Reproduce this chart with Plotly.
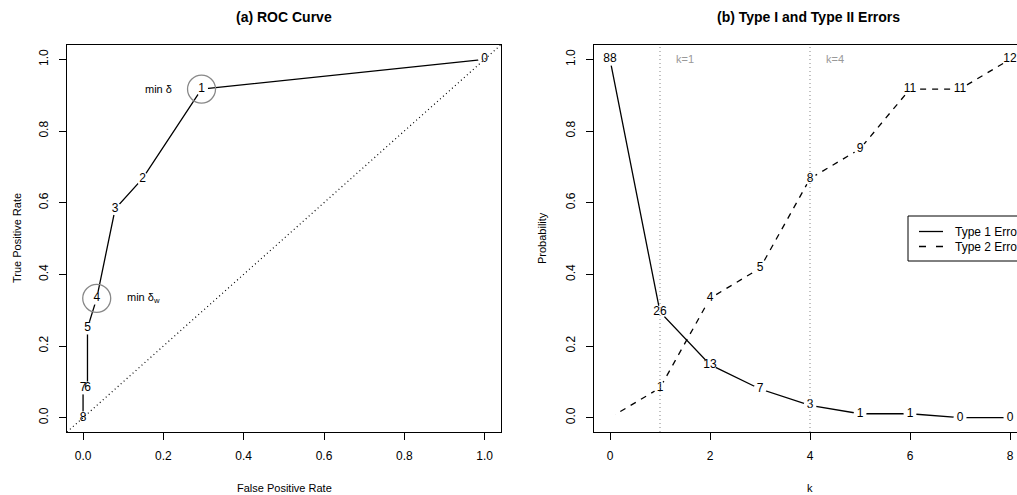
import plotly.graph_objects as go

# ---------------- data ----------------
k_values = [0, 1, 2, 3, 4, 5, 6, 7, 8]
type1_prob = [1.0, 0.295, 0.148, 0.080, 0.034, 0.011, 0.011, 0.0, 0.0]
type1_labels = ["88", "26", "13", "7", "3", "1", "1", "0", "0"]
type2_prob = [0.0, 0.083, 0.333, 0.417, 0.667, 0.750, 0.917, 0.917, 1.0]
type2_labels = ["", "1", "4", "5", "8", "9", "11", "11", "12"]

roc_fpr = [1.0, 0.295, 0.148, 0.080, 0.034, 0.011, 0.011, 0.0, 0.0]
roc_tpr = [1.0, 0.917, 0.667, 0.583, 0.333, 0.250, 0.083, 0.083, 0.0]
roc_labels = ["0", "1", "2", "3", "4", "5", "6", "7", "8"]
roc_highlight_idx = [1, 4]

k_marks = [1, 4]
k_mark_labels = ["k=1", "k=4"]

roc_ticks = [0.0, 0.2, 0.4, 0.6, 0.8, 1.0]
prob_ticks = [0.0, 0.2, 0.4, 0.6, 0.8, 1.0]
k_ticks = [0, 2, 4, 6, 8]

# ---------------- figure ----------------
# The figure is a little wider than the window: the right panel runs past
# the visible edge, as in the reference.
W, H = 1030, 495
FONT = "Liberation Sans, Arial, Helvetica, sans-serif"

def px(x):
    return x / W

def py(y):
    return 1 - y / H

fig = go.Figure()

# --- ROC panel ---
fig.add_trace(go.Scatter(x=roc_fpr, y=roc_tpr, mode="lines",
                         line=dict(color="black", width=1.3),
                         xaxis="x", yaxis="y", showlegend=False, hoverinfo="skip"))
fig.add_trace(go.Scatter(x=roc_fpr, y=roc_tpr, mode="markers",
                         marker=dict(color="white", size=13, line=dict(width=0)),
                         xaxis="x", yaxis="y", showlegend=False, hoverinfo="skip"))
fig.add_trace(go.Scatter(x=roc_fpr, y=roc_tpr, mode="text", text=roc_labels,
                         textposition="middle center",
                         textfont=dict(family=FONT, size=12, color="black"),
                         cliponaxis=False,
                         xaxis="x", yaxis="y", showlegend=False))
fig.add_trace(go.Scatter(x=[roc_fpr[i] for i in roc_highlight_idx],
                         y=[roc_tpr[i] for i in roc_highlight_idx],
                         mode="markers",
                         marker=dict(symbol="circle-open", size=28, color="#888888",
                                     line=dict(width=1.3, color="#888888")),
                         xaxis="x", yaxis="y", showlegend=False, hoverinfo="skip"))

# --- Errors panel ---
fig.add_trace(go.Scatter(x=k_values, y=type1_prob, mode="lines", name="Type 1 Error",
                         line=dict(color="black", width=1.3),
                         xaxis="x2", yaxis="y2", showlegend=False))
fig.add_trace(go.Scatter(x=k_values, y=type2_prob, mode="lines", name="Type 2 Error",
                         line=dict(color="black", width=1.3, dash="6px,6px"),
                         xaxis="x2", yaxis="y2", showlegend=False))
fig.add_trace(go.Scatter(x=k_values + k_values, y=type1_prob + type2_prob, mode="markers",
                         marker=dict(color="white", size=13, line=dict(width=0)),
                         xaxis="x2", yaxis="y2", showlegend=False, hoverinfo="skip"))
fig.add_trace(go.Scatter(x=k_values, y=type1_prob, mode="text", text=type1_labels,
                         textposition="middle center",
                         textfont=dict(family=FONT, size=12, color="black"),
                         cliponaxis=False,
                         xaxis="x2", yaxis="y2", showlegend=False))
fig.add_trace(go.Scatter(x=k_values[1:], y=type2_prob[1:], mode="text", text=type2_labels[1:],
                         textposition="middle center",
                         textfont=dict(family=FONT, size=12, color="black"),
                         cliponaxis=False,
                         xaxis="x2", yaxis="y2", showlegend=False))

shapes = []
# diagonal reference
shapes.append(dict(type="line", xref="x", yref="y", x0=-0.04, y0=-0.04, x1=1.04, y1=1.04,
                   line=dict(color="black", width=1.2, dash="1px,3px"), layer="above"))
# k markers
for km in k_marks:
    shapes.append(dict(type="line", xref="x2", yref="y2 domain", x0=km, x1=km, y0=0, y1=1,
                       line=dict(color="#999999", width=1.2, dash="1px,3px"), layer="above"))

# legend box (extends past the visible window, as in the reference)
shapes.append(dict(type="rect", xref="paper", yref="paper",
                   x0=px(908), x1=px(1050), y0=py(261), y1=py(216),
                   line=dict(color="black", width=1), fillcolor="white", layer="above"))
shapes.append(dict(type="line", xref="paper", yref="paper",
                   x0=px(919), x1=px(943), y0=py(231.5), y1=py(231.5),
                   line=dict(color="black", width=1.3), layer="above"))
shapes.append(dict(type="line", xref="paper", yref="paper",
                   x0=px(919), x1=px(943), y0=py(246.5), y1=py(246.5),
                   line=dict(color="black", width=1.3, dash="7px,10px"), layer="above"))

annotations = []

def note(text, x, y, size=11, color="black", angle=0, xanchor="center", bold=False):
    annotations.append(dict(text=f"<b>{text}</b>" if bold else text,
                            xref="paper", yref="paper", x=px(x), y=py(y),
                            xanchor=xanchor, yanchor="middle", showarrow=False,
                            textangle=angle,
                            font=dict(family=FONT, size=size, color=color)))

# titles
note("(a) ROC Curve", 284, 17, size=14, bold=True)
note("(b) Type I and Type II Errors", 808, 17, size=14, bold=True)
# axis titles
note("False Positive Rate", 284, 488)
note("True Positive Rate", 17, 238, angle=-90)
note("k", 810, 488)
note("Probability", 542, 238, angle=-90)
# legend texts
note("Type 1 Error", 953, 231.5, size=12, xanchor="left")
note("Type 2 Error", 953, 246.5, size=12, xanchor="left")

# ROC notes
annotations.append(dict(text="min δ", xref="x", yref="y",
                        x=0.227, y=roc_tpr[1], xanchor="right", yanchor="middle",
                        showarrow=False, font=dict(family=FONT, size=11, color="black")))
annotations.append(dict(text="min δ<sub>w</sub>", xref="x", yref="y",
                        x=0.105, y=roc_tpr[4], xanchor="left", yanchor="middle",
                        showarrow=False, font=dict(family=FONT, size=11, color="black")))
# k labels
for km, lab in zip(k_marks, k_mark_labels):
    annotations.append(dict(text=lab, xref="x2", yref="y2", x=km + 0.5, y=1.0,
                            xanchor="center", yanchor="middle", showarrow=False,
                            font=dict(family=FONT, size=11, color="#999999")))

axis_common = dict(showgrid=False, zeroline=False, showline=True, linecolor="black",
                   linewidth=1, ticks="outside", ticklen=7, tickwidth=1,
                   tickcolor="black", tickfont=dict(family=FONT, size=12, color="black"))
x_common = dict(ticklabelstandoff=6, **axis_common)
y_common = dict(ticklabelstandoff=6, tickangle=-90, **axis_common)

fig.update_layout(
    width=W, height=H,
    margin=dict(l=0, r=0, t=0, b=0),
    paper_bgcolor="white", plot_bgcolor="white",
    showlegend=False,
    hovermode=False,
    xaxis=dict(domain=[px(67), px(500.7)], range=[-0.04, 1.04], tickvals=roc_ticks,
               tickformat=".1f", mirror=True, anchor="y", **x_common),
    yaxis=dict(domain=[py(432), py(45)], range=[-0.04, 1.04], tickvals=roc_ticks,
               tickformat=".1f", mirror=True, anchor="x", **y_common),
    xaxis2=dict(domain=[px(594), px(1026)], range=[-0.32, 8.32], tickvals=k_ticks,
                mirror=True, anchor="y2", **x_common),
    yaxis2=dict(domain=[py(432), py(45)], range=[-0.04, 1.04], tickvals=prob_ticks,
                tickformat=".1f", mirror=True, anchor="x2", **y_common),
    shapes=shapes,
    annotations=annotations,
)

fig.write_html(
    "out.html",
    config={"displayModeBar": False},
    post_script="document.body.style.margin='0';"
                "document.body.style.overflow='hidden';"
                "document.documentElement.style.overflow='hidden';",
)
